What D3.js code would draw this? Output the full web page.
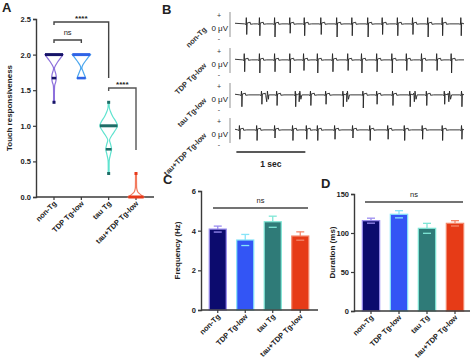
<!DOCTYPE html>
<html><head><meta charset="utf-8">
<script src="https://cdn.jsdelivr.net/npm/d3@7"></script>
<style>body{margin:0;background:#fff}svg{display:block;font-family:"Liberation Sans",Arial,sans-serif}</style>
</head><body><svg id="c" width="474" height="359"></svg>
<script>
// ---------- data ----------
const categories = ["non-Tg","TDP Tg-low","tau Tg","tau+TDP Tg-low"];
const traceLabels = ["non-Tg","TDP Tg-low","tau Tg-low","tau+TDP Tg-low"];
const fillColors = ["#0c0b6e","#3355f5","#2f7b78","#e63b17"];
const lightColors = ["#9a8cf0","#86e4f8","#7fe6d6","#f4886c"];
const violinColors = ["#8d70dc","#4aa6ee","#5fe3cf","#f27a5e"];
const medianColors = ["#161468","#2f63e6","#1f6d67","#e8391a"];

// Panel A: violin density profiles [value, relative half-width]
const violinNonTg = [[2.0,1],[1.95,0.72],[1.9,0.42],[1.85,0.18],[1.81,0.05],[1.77,0.1],[1.72,0.22],[1.67,0.25],[1.62,0.2],[1.57,0.08],[1.5,0.05],[1.33,0.05]];
const violinTDP   = [[2.0,1],[1.95,0.7],[1.9,0.4],[1.85,0.15],[1.81,0.06],[1.76,0.2],[1.71,0.36],[1.67,0.48]];
const violinTau   = [[1.33,0.05],[1.25,0.08],[1.2,0.2],[1.13,0.45],[1.06,0.8],[1.0,0.98],[0.94,0.75],[0.87,0.38],[0.8,0.1],[0.74,0.22],[0.67,0.32],[0.6,0.2],[0.52,0.07],[0.45,0.05],[0.33,0.05]];
const violinTauTDP= [[0.33,0.05],[0.2,0.06],[0.12,0.08],[0.07,0.2],[0.03,0.55],[0.0,0.85]];
const violins = [violinNonTg, violinTDP, violinTau, violinTauTDP];
const medians = [2.0, 2.0, 1.0, 0.0];
const quartiles = [1.67, 1.67, 0.67, null];
const minima = [1.33, 1.67, 0.33, 0.0];
const maxima = [2.0, 2.0, 1.33, 0.33];
const ticksA = [0, 0.5, 1.0, 1.5, 2.0, 2.5];

// Panel B: beat times (s) and down / up amplitudes
const beatsRow1 = [0.17,0.36,0.58,0.80,1.01,1.25,1.48,1.70,1.93,2.14,2.36,2.58,2.80,3.01,3.28];
const downRow1  = [0.8,0.9,1.0,0.7,0.9,0.8,1.0,0.9,1.0,0.8,0.9,0.8,1.0,0.9,0.9];
const beatsRow2 = [0.14,0.36,0.58,0.80,1.00,1.20,1.42,1.64,1.84,2.06,2.28,2.49,2.71,2.93,3.14];
const downRow2  = [0.9,1.0,0.9,1.0,0.8,1.0,0.9,0.8,1.0,0.9,1.0,0.8,0.9,0.8,1.0];
const beatsRow3 = [0.10,0.39,0.61,0.88,1.10,1.32,1.57,1.86,2.06,2.29,2.54,2.78,3.04,3.29];
const downRow3  = [0.9,0.7,0.8,0.9,0.8,0.7,0.9,1.0,0.7,0.8,0.9,0.8,0.7,0.9];
const vRow3     = [0.46,0.93,1.62,2.60,3.10];
const beatsRow4 = [0.07,0.32,0.58,0.84,1.04,1.20,1.45,1.71,1.96,2.22,2.46,2.72,3.01,3.29];
const downRow4  = [0.7,0.8,0.6,0.8,0.7,0.8,0.7,0.6,0.8,0.7,0.8,0.7,0.8,0.7];
const upAmps    = [0.55,0.55,0.35,0.4];

// Panel C / D
const freqMean = [4.08, 3.53, 4.45, 3.73];
const freqSem  = [0.15, 0.28, 0.28, 0.21];
const durMean  = [115.8, 124.0, 106.0, 112.4];
const durSem   = [3.2, 4.6, 6.4, 3.4];
const ticksC = [0,2,4,6];
const ticksD = [0,50,100,150];

// ---------- drawing ----------
const svg = d3.select("#c");
const axisCol = "#3a3a3a";
function label(t,x,y){svg.append("text").attr("x",x).attr("y",y).text(t).attr("font-size",13).attr("font-weight","bold").attr("fill","#222");}
label("A",2,12); label("B",162,14); label("C",163,184); label("D",321,188);

function yAxis(scale, x, ticks, fmt){
  const g = svg.append("g").attr("transform",`translate(${x},0)`)
    .call(d3.axisLeft(scale).tickValues(ticks).tickFormat(fmt).tickSize(3).tickPadding(2));
  g.select(".domain").attr("stroke",axisCol).attr("stroke-width",1.4);
  g.selectAll(".tick line").attr("stroke",axisCol).attr("stroke-width",1.2);
  g.selectAll("text").attr("font-size",7.5).attr("font-weight","bold").attr("fill","#222").attr("font-family","Liberation Sans,Arial");
}
function xAxis(posFn, x0, x1, y){
  svg.append("line").attr("x1",x0).attr("x2",x1).attr("y1",y).attr("y2",y).attr("stroke",axisCol).attr("stroke-width",1.4);
  categories.forEach((c,i)=>{
    const px = posFn(c);
    svg.append("line").attr("x1",px).attr("x2",px).attr("y1",y).attr("y2",y+3).attr("stroke",axisCol).attr("stroke-width",1.2);
    svg.append("text").attr("transform",`translate(${px+3},${y+7}) rotate(-45)`).attr("text-anchor","end")
      .attr("font-size",7.5).attr("font-weight","bold").attr("fill","#222").text(c);
  });
}
function yTitle(t,x,y){svg.append("text").attr("transform",`translate(${x},${y}) rotate(-90)`).attr("text-anchor","middle")
  .attr("font-size",8).attr("font-weight","bold").attr("fill","#222").text(t);}

// ----- Panel A -----
const yA = d3.scaleLinear().domain([0,2.5]).range([197,19]);
const xA = d3.scalePoint().domain(categories).range([54,136]);
const wA = d3.scaleLinear().domain([0,1]).range([0,9]);
yAxis(yA, 36, ticksA, d3.format(".1f"));
xAxis(c=>xA(c), 36, 154, 197);
yTitle("Touch responsiveness", 12, 108);

categories.forEach((c,i)=>{
  const cx = xA(c);
  const area = d3.area().curve(d3.curveCatmullRom)
    .y(d=>yA(d[0])).x0(d=>cx - wA(d[1])).x1(d=>cx + wA(d[1]));
  svg.append("path").attr("d",area(violins[i])).attr("fill","#fff").attr("stroke",violinColors[i]).attr("stroke-width",1.2);
  const widthAt = v => { const p = violins[i].find(d=>Math.abs(d[0]-v)<1e-6); return p? wA(p[1]) : 2; };
  const mw = widthAt(medians[i]);
  svg.append("line").attr("x1",cx-mw).attr("x2",cx+mw).attr("y1",yA(medians[i])).attr("y2",yA(medians[i]))
    .attr("stroke",medianColors[i]).attr("stroke-width",3);
  if(quartiles[i]!==null){
    const qw = Math.max(widthAt(quartiles[i]),2);
    svg.append("line").attr("x1",cx-qw).attr("x2",cx+qw).attr("y1",yA(quartiles[i])).attr("y2",yA(quartiles[i]))
      .attr("stroke",medianColors[i]).attr("stroke-width",2.6);
  }
  [minima[i],maxima[i]].forEach(v=>{
    if(v!==medians[i] && v!==quartiles[i])
      svg.append("rect").attr("x",cx-1.5).attr("y",yA(v)-1.5).attr("width",3).attr("height",3).attr("fill",medianColors[i]);
  });
});
// significance brackets
const brk = "#444";
function pathLine(pts,col){svg.append("path").attr("d",d3.line()(pts)).attr("fill","none").attr("stroke",col||brk).attr("stroke-width",1.4);}
pathLine([[xA(categories[0]),25],[xA(categories[0]),22],[xA(categories[2]),22],[xA(categories[2]),78]]);
pathLine([[xA(categories[0]),43],[xA(categories[0]),40],[xA(categories[1]),40],[xA(categories[1]),43]]);
pathLine([[xA(categories[2]),91],[xA(categories[2]),88],[xA(categories[3]),88],[xA(categories[3]),150]],"#555");
function sig(t,x,y,fs){svg.append("text").attr("x",x).attr("y",y).attr("text-anchor","middle").attr("font-size",fs||8).attr("font-weight","bold").attr("fill","#222").text(t);}
sig("****",(xA(categories[0])+xA(categories[2]))/2,21);
sig("****",(xA(categories[2])+xA(categories[3]))/2,87);
svg.append("text").attr("x",(xA(categories[0])+xA(categories[1]))/2).attr("y",35).attr("text-anchor","middle").attr("font-size",7.5).attr("fill","#222").text("ns");

// ----- Panel B -----
const rowCenters = [24,60,95,130];
const xT = d3.scaleLinear().domain([0,3.32]).range([235,464]);
const rows = [
  {beats:beatsRow1, down:downRow1, v:[]},
  {beats:beatsRow2, down:downRow2, v:[]},
  {beats:beatsRow3, down:downRow3, v:vRow3},
  {beats:beatsRow4, down:downRow4, v:[]}
];
rows.forEach((r,i)=>{
  const cy = rowCenters[i];
  const yT = d3.scaleLinear().domain([-1,1]).range([cy+13,cy-12]);
  const events = [];
  r.beats.forEach((t,j)=>events.push({t, type:"beat", d:r.down[j]}));
  r.v.forEach(t=>events.push({t, type:"v"}));
  events.sort((a,b)=>a.t-b.t);
  const pts = [[0,0.1]];
  events.forEach(e=>{
    if(e.type==="beat"){
      pts.push([e.t-0.03,0.05],[e.t-0.012,0.0],[e.t-0.006,upAmps[i]],[e.t-0.002,0.05],[e.t,-e.d],[e.t+0.006,0.12],[e.t+0.05,0.18],[e.t+0.055,0.02],[e.t+0.1,0.05]);
    } else {
      pts.push([e.t-0.02,0.05],[e.t,-0.5],[e.t+0.01,0.35],[e.t+0.025,-0.3],[e.t+0.04,0.05]);
    }
  });
  pts.push([3.32,0.05]);
  pts.sort((a,b)=>a[0]-b[0]);
  svg.append("path").attr("d",d3.line().x(d=>xT(d[0])).y(d=>yT(d[1]))(pts.filter(p=>p[0]>=0&&p[0]<=3.32)))
    .attr("fill","none").attr("stroke","#222").attr("stroke-width",0.9);
  svg.append("line").attr("x1",230).attr("x2",230).attr("y1",cy-12).attr("y2",cy+13).attr("stroke","#777").attr("stroke-width",0.8);
  svg.append("text").attr("x",219).attr("y",cy-6).attr("text-anchor","middle").attr("font-size",7).attr("fill","#333").text("+");
  svg.append("text").attr("x",219).attr("y",cy+17).attr("text-anchor","middle").attr("font-size",7).attr("fill","#333").text("-");
  svg.append("text").attr("x",228).attr("y",cy+7).attr("text-anchor","end").attr("font-size",8).attr("fill","#222").text("0 μV");
  svg.append("text").attr("transform",`translate(207,${cy+6}) rotate(-45)`).attr("text-anchor","end")
    .attr("font-size",7.5).attr("font-weight","bold").attr("fill","#333").text(traceLabels[i]);
});
svg.append("line").attr("x1",xT(0.02)).attr("x2",xT(1.02)).attr("y1",152).attr("y2",152).attr("stroke","#222").attr("stroke-width",1.5);
svg.append("text").attr("x",(xT(0.02)+xT(1.02))/2).attr("y",167).attr("text-anchor","middle").attr("font-size",8.5).attr("font-weight","bold").attr("fill","#222").text("1 sec");

// ----- Panels C, D -----
function barPanel(mean, sem, yDom, yRange, xRange, axisX, axisEnd, ticks, title, titleX, nsY, nsX0, nsX1){
  const y = d3.scaleLinear().domain(yDom).range(yRange);
  const x = d3.scaleBand().domain(categories).range(xRange).paddingInner(0.38).paddingOuter(0.19);
  categories.forEach((c,i)=>{
    svg.append("line").attr("x1",x(c)+x.bandwidth()/2).attr("x2",x(c)+x.bandwidth()/2)
      .attr("y1",y(mean[i]-sem[i])).attr("y2",y(mean[i]+sem[i])).attr("stroke",lightColors[i]).attr("stroke-width",1.3);
    svg.append("line").attr("x1",x(c)+x.bandwidth()/2-4).attr("x2",x(c)+x.bandwidth()/2+4)
      .attr("y1",y(mean[i]+sem[i])).attr("y2",y(mean[i]+sem[i])).attr("stroke",lightColors[i]).attr("stroke-width",1.3);
    svg.append("rect").attr("x",x(c)).attr("y",y(mean[i])).attr("width",x.bandwidth()).attr("height",y(0)-y(mean[i]))
      .attr("fill",fillColors[i]).attr("stroke",lightColors[i]).attr("stroke-width",1.2);
    svg.append("line").attr("x1",x(c)+x.bandwidth()/2-4).attr("x2",x(c)+x.bandwidth()/2+4)
      .attr("y1",y(mean[i]-sem[i])).attr("y2",y(mean[i]-sem[i])).attr("stroke",lightColors[i]).attr("stroke-width",1.3);
  });
  yAxis(y, axisX, ticks, d3.format("d"));
  xAxis(c=>x(c)+x.bandwidth()/2, axisX, axisEnd, y(0));
  yTitle(title, titleX, (yRange[0]+yRange[1])/2);
  svg.append("line").attr("x1",nsX0).attr("x2",nsX1).attr("y1",nsY).attr("y2",nsY).attr("stroke",brk).attr("stroke-width",1.4);
  svg.append("text").attr("x",(nsX0+nsX1)/2).attr("y",nsY-5).attr("text-anchor","middle").attr("font-size",7.5).attr("fill","#222").text("ns");
}
barPanel(freqMean, freqSem, [0,6], [310,191], [204,314], 201, 318, ticksC, "Frequency (Hz)", 180, 208, 213, 308);
barPanel(durMean, durSem, [0,150], [311,194], [357,469], 354, 470, ticksD, "Duration (ms)", 335, 202, 365, 463);
</script></body></html>
